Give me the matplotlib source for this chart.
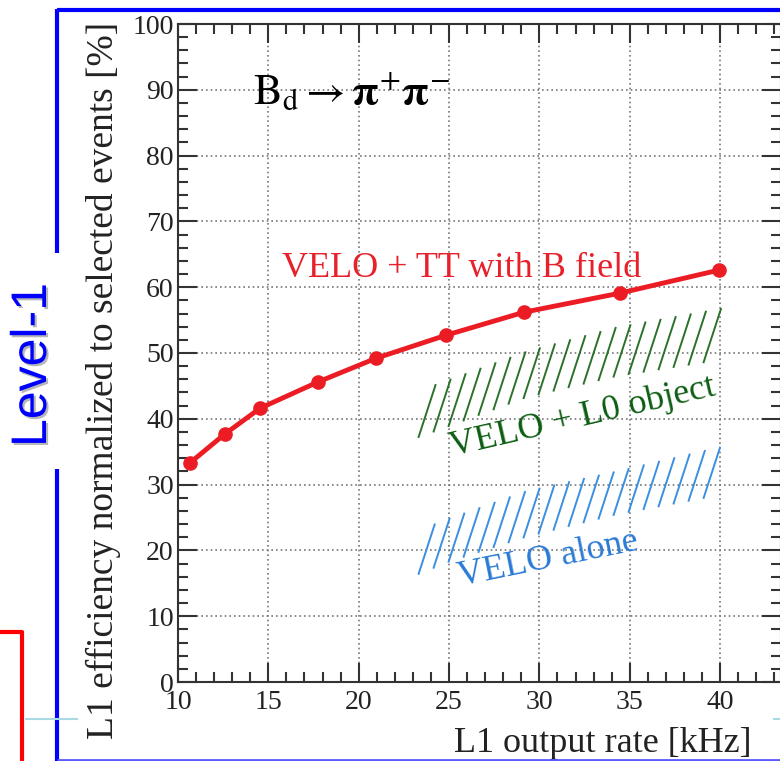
import numpy as np
import matplotlib
matplotlib.use("Agg")
import matplotlib.pyplot as plt
from matplotlib.lines import Line2D
from matplotlib.collections import LineCollection
import matplotlib.patheffects as pe

# ---- data -------------------------------------------------------------
rate_khz = [10.66, 12.60, 14.54, 17.75, 20.96, 24.83, 29.15, 34.46, 39.94]
eff_velo_tt = [33.3, 37.7, 41.6, 45.6, 49.2, 52.7, 56.2, 59.1, 62.6]

# hatched bands: (rate grid, lower edge, upper edge)
band_rate = [23.3, 25.0, 29.3, 34.3, 39.4, 41.0]
l0_lower = [37.1, 38.8, 43.2, 46.4, 48.6, 49.2]
l0_upper = [44.3, 46.0, 50.3, 54.0, 56.5, 57.3]
velo_lower = [16.3, 18.2, 22.0, 25.4, 28.0, 28.8]
velo_upper = [23.1, 24.9, 29.1, 32.1, 35.4, 36.3]

xticks = [10, 15, 20, 25, 30, 35, 40]
yticks = [0, 10, 20, 30, 40, 50, 60, 70, 80, 90, 100]

# ---- figure -----------------------------------------------------------
W, H = 780, 761
fig = plt.figure(figsize=(W / 100, H / 100), dpi=100)
plt.rcParams['mathtext.fontset'] = 'stix'
serif = 'Liberation Serif'

ax = fig.add_axes([178 / W, 79 / H, (781 - 178) / W, 658 / H])
ax.set_xlim(10, 10 + (781 - 178) / 18.07)
ax.set_ylim(0, 100)

ax.set_xticks(xticks)
ax.set_yticks(yticks)
ax.set_xticks(np.arange(10, 44, 1), minor=True)
ax.set_yticks(np.arange(0, 101, 2), minor=True)
ax.tick_params(which='both', direction='in', top=True, right=True,
               color='#333333', width=1.5)
ax.tick_params(which='major', length=14)
ax.tick_params(which='minor', length=7.5)
ax.tick_params(axis='x', which='major', pad=6)
ax.tick_params(axis='y', which='major', pad=3)
for lab in ax.get_xticklabels() + ax.get_yticklabels():
    lab.set_fontfamily(serif)
    lab.set_fontsize(20)
    lab.set_color('#222222')
for sp in ax.spines.values():
    sp.set_color('#333333')
    sp.set_linewidth(1.5)

ax.grid(True, which='major', linestyle=(0, (1, 1.8)), color='#777777',
        linewidth=1.2)
ax.set_axisbelow(True)

# ---- hatched bands ----------------------------------------------------
fig.canvas.draw()
p0 = ax.transData.transform((0, 0))
p1 = ax.transData.transform((1, 1))
px_per_x, px_per_y = p1 - p0
hatch_angle = 72.0
slope = np.tan(np.radians(hatch_angle)) * px_per_x / px_per_y


def hatch_segments(xe, lo, hi, x0, x1, step):
    xs = np.arange(x0, x1 + 1e-9, step)
    y0 = np.interp(xs, xe, lo)
    d = np.zeros_like(xs)
    for _ in range(30):
        d = (np.interp(xs + d, xe, hi) - y0) / slope
    return [[(x, y), (x + dd, y + slope * dd)] for x, y, dd in zip(xs, y0, d)]


step = 15 / px_per_x
ax.add_collection(LineCollection(
    hatch_segments(band_rate, l0_lower, l0_upper, 23.3, 39.5, step),
    colors='#2a722a', linewidths=1.4, zorder=3))
ax.add_collection(LineCollection(
    hatch_segments(band_rate, velo_lower, velo_upper, 23.3, 39.5, step),
    colors='#3b8fe0', linewidths=1.4, zorder=3))

# ---- main curve -------------------------------------------------------
ax.plot(rate_khz, eff_velo_tt, color='#ec1c24', lw=3.5, marker='o',
        markersize=9.5, zorder=4)

# ---- annotations ------------------------------------------------------
ax.text(14.15, 87.7, r'$\mathrm{B_d} \rightarrow \mathbf{\pi}^{+}\mathbf{\pi}^{-}$',
        fontsize=31, ha='left', va='baseline', color='black')
ax.text(15.76, 61.55, 'VELO + TT with B field', family=serif, fontsize=26,
        color='#e8202a', ha='left', va='baseline')
ax.text(25.2, 34.3, 'VELO + L0 object', family=serif, fontsize=26,
        color='#0d5e12', ha='left', va='baseline', rotation=13,
        rotation_mode='anchor')
ax.text(25.6, 14.6, 'VELO alone', family=serif, fontsize=26,
        color='#2a7ad6', ha='left', va='baseline', rotation=11.5,
        rotation_mode='anchor')

ax.set_ylabel('L1 efficiency normalized to selected events [%]',
              family=serif, fontsize=27, color='#222222')
ax.yaxis.set_label_coords((103 - 178) / 603, (682 - 380) / 658)
ax.yaxis.label.set_va('center')
ax.set_xlabel('L1 output rate [kHz]', family=serif, fontsize=26,
              color='#222222')
ax.xaxis.set_label_coords((752 - 178) / 603, (682 - 743) / 658)
ax.xaxis.label.set_ha('right')
ax.xaxis.label.set_va('center')

# ---- slide decorations ------------------------------------------------
def fx(x):
    return x / W


def fy(y):
    return 1 - y / H


def seg(xs, ys, color, lw):
    fig.add_artist(Line2D([fx(x) for x in xs], [fy(y) for y in ys],
                          transform=fig.transFigure, color=color, lw=lw,
                          solid_capstyle='butt', zorder=10))


seg([57, 780], [10, 10], '#0000ff', 3)
seg([57, 57], [8.5, 253], '#0000ff', 3)
seg([57, 57], [469, 761], '#0000ff', 3)
seg([57, 780], [759.5, 759.5], '#5a5aff', 2)
seg([0, 22, 22], [632, 632, 761], '#ff0000', 3)
seg([25, 78], [719, 719], '#a9d9e2', 1.5)
seg([773, 780], [719, 719], '#a9d9e2', 1.5)

fig.text(fx(33), fy(365), 'Level-1', family='Liberation Sans', fontsize=36,
         color='#0000ff', rotation=90, ha='center', va='center',
         path_effects=[pe.SimplePatchShadow(offset=(1.5, -1.5),
                                            shadow_rgbFace='#888888',
                                            alpha=0.6), pe.Normal()])

fig.savefig('out.png', dpi=100)
